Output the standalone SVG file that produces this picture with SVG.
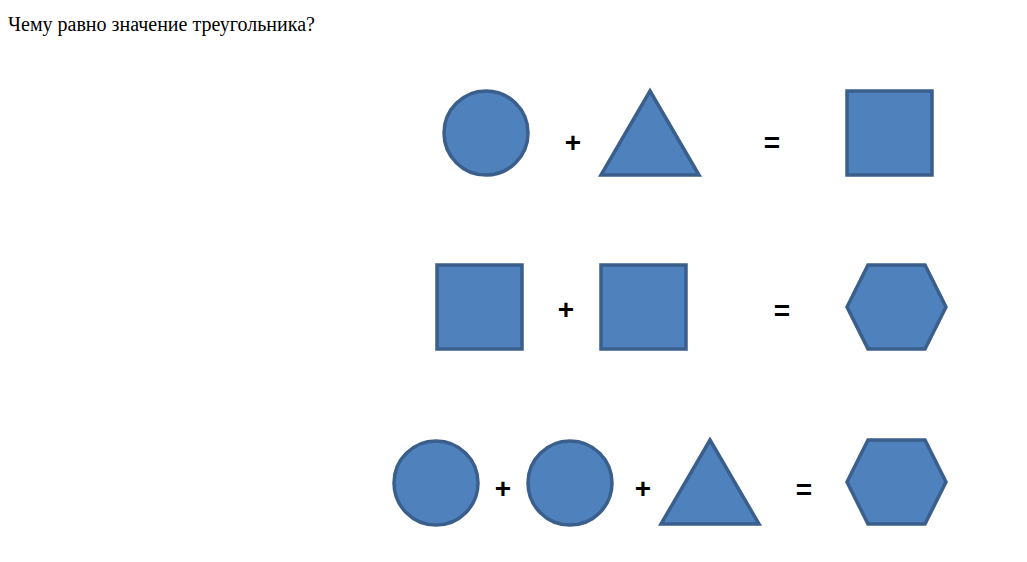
<svg xmlns="http://www.w3.org/2000/svg" width="1027" height="562" viewBox="0 0 1027 562">
<style>
.s{fill:#4F81BD;stroke:#3A5F8C;stroke-width:3.5;stroke-linejoin:miter}
.op{font-family:"Liberation Sans",Arial,sans-serif;font-size:28px;font-weight:bold;text-anchor:middle;fill:#000}
.t{font-family:"Liberation Serif","Times New Roman",serif;font-size:20px;fill:#000}
</style>
<rect width="1027" height="562" fill="#fff"/>
<text class="t" x="8" y="31">Чему равно значение треугольника?</text>
<g id="row1">
<g id="r1-circle"><circle class="s" cx="486" cy="133" r="42"/></g>
<g id="r1-plus"><text class="op" x="573" y="152">+</text></g>
<g id="r1-triangle"><polygon class="s" points="650,91 699,175 601,175"/></g>
<g id="r1-eq"><text class="op" x="772" y="152">=</text></g>
<g id="r1-square"><rect class="s" x="847" y="91" width="85" height="84"/></g>
</g>
<g id="row2">
<g id="r2-square1"><rect class="s" x="437" y="265" width="85" height="84"/></g>
<g id="r2-plus"><text class="op" x="566" y="319">+</text></g>
<g id="r2-square2"><rect class="s" x="601" y="265" width="85" height="84"/></g>
<g id="r2-eq"><text class="op" x="782" y="320">=</text></g>
<g id="r2-hexagon"><polygon class="s" points="868,265 925,265 946,307 925,349 868,349 847,307"/></g>
</g>
<g id="row3">
<g id="r3-circle1"><circle class="s" cx="436" cy="483" r="42"/></g>
<g id="r3-plus1"><text class="op" x="503" y="498">+</text></g>
<g id="r3-circle2"><circle class="s" cx="570" cy="483" r="42"/></g>
<g id="r3-plus2"><text class="op" x="643" y="498">+</text></g>
<g id="r3-triangle"><polygon class="s" points="710,440 759,524 661,524"/></g>
<g id="r3-eq"><text class="op" x="804" y="499">=</text></g>
<g id="r3-hexagon"><polygon class="s" points="868,440 925,440 946,482 925,524 868,524 847,482"/></g>
</g>
<g id="connectors"></g>
</svg>
